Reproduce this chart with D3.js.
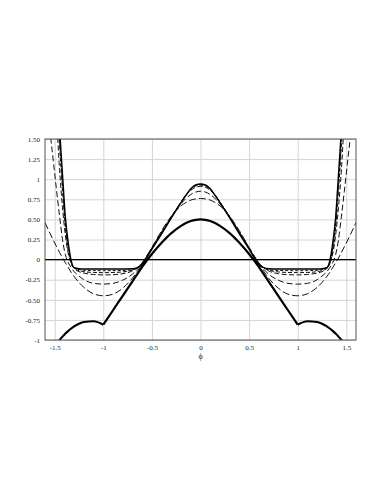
<!DOCTYPE html>
<html>
<head>
<meta charset="utf-8">
<script src="https://cdn.jsdelivr.net/npm/d3@7"></script>
<style>
  body { margin: 0; background: #fff; }
  text { font-family: "Liberation Serif", "Times New Roman", serif; }
</style>
</head>
<body>
<svg id="chart"></svg>
<script>
// phi grid shared by all curves
const phi = [-1.6, -1.55, -1.51, -1.48, -1.45, -1.42, -1.39, -1.36, -1.33, -1.3, -1.25, -1.2, -1.1, -1.0, -0.9, -0.8, -0.7, -0.65, -0.6, -0.5, -0.4, -0.3, -0.2, -0.15, -0.1, -0.05, 0,
  0.05, 0.1, 0.15, 0.2, 0.3, 0.4, 0.5, 0.6, 0.65, 0.7, 0.8, 0.9, 1.0, 1.1, 1.2, 1.25, 1.3, 1.33, 1.36, 1.39, 1.42, 1.45, 1.48, 1.51, 1.55, 1.6];

// thick solid curve with the cusps at +-1
const curveA = [-1.27, -1.17, -1.097, -1.047, -1.0, -0.958, -0.92, -0.887, -0.857, -0.831, -0.798, -0.776, -0.767, -0.81, -0.63, -0.45, -0.27, -0.18, -0.09, 0.07, 0.21, 0.33, 0.42, 0.455, 0.48, 0.495, 0.50,
  0.495, 0.48, 0.455, 0.42, 0.33, 0.21, 0.07, -0.09, -0.18, -0.27, -0.45, -0.63, -0.81, -0.767, -0.776, -0.798, -0.831, -0.857, -0.887, -0.92, -0.958, -1.0, -1.047, -1.097, -1.17, -1.27];
// solid curve, flat bottom
const curveB = [5.0, 3.9, 3.0, 2.3, 1.62, 1.06, 0.52, 0.20, -0.015, -0.10, -0.113, -0.116, -0.117, -0.117, -0.117, -0.117, -0.113, -0.10, -0.06, 0.13, 0.32, 0.52, 0.71, 0.80, 0.88, 0.93, 0.94,
  0.93, 0.88, 0.80, 0.71, 0.52, 0.32, 0.13, -0.06, -0.10, -0.113, -0.117, -0.117, -0.117, -0.117, -0.116, -0.113, -0.10, -0.015, 0.20, 0.52, 1.06, 1.62, 2.3, 3.0, 3.9, 5.0];
// dashed approximations
const dash1 = [0.46, 0.33, 0.23, 0.16, 0.09, 0.02, -0.04, -0.10, -0.16, -0.21, -0.285, -0.345, -0.425, -0.45, -0.43, -0.355, -0.23, -0.145, -0.06, 0.15, 0.36, 0.54, 0.67, 0.71, 0.74, 0.755, 0.76,
  0.755, 0.74, 0.71, 0.67, 0.54, 0.36, 0.15, -0.06, -0.145, -0.23, -0.355, -0.43, -0.45, -0.425, -0.345, -0.285, -0.21, -0.16, -0.10, -0.04, 0.02, 0.09, 0.16, 0.23, 0.33, 0.46];
const dash2 = [2.3, 1.62, 1.18, 0.85, 0.54, 0.25, 0.06, -0.04, -0.10, -0.15, -0.205, -0.25, -0.295, -0.305, -0.295, -0.255, -0.18, -0.12, -0.04, 0.15, 0.345, 0.53, 0.695, 0.76, 0.81, 0.84, 0.85,
  0.84, 0.81, 0.76, 0.695, 0.53, 0.345, 0.15, -0.04, -0.12, -0.18, -0.255, -0.295, -0.305, -0.295, -0.25, -0.205, -0.15, -0.10, -0.04, 0.06, 0.25, 0.54, 0.85, 1.18, 1.62, 2.3];
const dash3 = [4.4, 3.3, 2.4, 1.75, 1.12, 0.65, 0.30, 0.07, -0.05, -0.11, -0.15, -0.168, -0.185, -0.19, -0.188, -0.175, -0.14, -0.10, -0.04, 0.145, 0.34, 0.535, 0.715, 0.80, 0.86, 0.90, 0.91,
  0.90, 0.86, 0.80, 0.715, 0.535, 0.34, 0.145, -0.04, -0.10, -0.14, -0.175, -0.188, -0.19, -0.185, -0.168, -0.15, -0.11, -0.05, 0.07, 0.30, 0.65, 1.12, 1.75, 2.4, 3.3, 4.4];
const dash4 = [4.7, 3.6, 2.7, 2.05, 1.42, 0.86, 0.40, 0.10, -0.05, -0.105, -0.138, -0.15, -0.16, -0.162, -0.16, -0.153, -0.13, -0.10, -0.045, 0.14, 0.335, 0.53, 0.715, 0.80, 0.87, 0.915, 0.925,
  0.915, 0.87, 0.80, 0.715, 0.53, 0.335, 0.14, -0.045, -0.10, -0.13, -0.153, -0.16, -0.162, -0.16, -0.15, -0.138, -0.105, -0.05, 0.10, 0.40, 0.86, 1.42, 2.05, 2.7, 3.6, 4.7];
const dash5 = [4.8, 3.7, 2.8, 2.1, 1.5, 0.93, 0.45, 0.14, -0.04, -0.10, -0.125, -0.133, -0.137, -0.138, -0.137, -0.135, -0.125, -0.10, -0.05, 0.135, 0.33, 0.525, 0.715, 0.80, 0.875, 0.925, 0.935,
  0.925, 0.875, 0.80, 0.715, 0.525, 0.33, 0.135, -0.05, -0.10, -0.125, -0.135, -0.137, -0.138, -0.137, -0.133, -0.125, -0.10, -0.04, 0.14, 0.45, 0.93, 1.5, 2.1, 2.8, 3.7, 4.8];

const xTicks = [-1.5, -1, -0.5, 0, 0.5, 1, 1.5];
const xTickLabels = ["-1.5", "-1", "-0.5", "0", "0.5", "1", "1.5"];
const yTicks = [-1, -0.75, -0.5, -0.25, 0, 0.25, 0.5, 0.75, 1, 1.25, 1.5];
const yTickLabels = ["-1", "-0.75", "-0.50", "-0.25", "0", "0.25", "0.50", "0.75", "1", "1.25", "1.50"];
const cusps = [-1, 1];

const width = 383, height = 495;
const plotLeft = 45, plotRight = 356, plotTop = 139, plotBottom = 340;

const svg = d3.select("#chart").attr("width", width).attr("height", height);

const x = d3.scaleLinear().domain([-1.6, 1.6]).range([plotLeft, plotRight]);
const y = d3.scaleLinear().domain([-1, 1.5]).range([plotBottom, plotTop]);

// grid
svg.append("g")
    .attr("transform", `translate(0,${plotBottom})`)
    .call(d3.axisBottom(x).tickValues(xTicks).tickSize(-(plotBottom - plotTop)).tickFormat(""))
    .call(g => g.select(".domain").remove())
    .call(g => g.selectAll("line").attr("stroke", "#d4d4d4").attr("stroke-width", 1));
svg.append("g")
    .attr("transform", `translate(${plotLeft},0)`)
    .call(d3.axisLeft(y).tickValues(yTicks).tickSize(-(plotRight - plotLeft)).tickFormat(""))
    .call(g => g.select(".domain").remove())
    .call(g => g.selectAll("line").attr("stroke", "#d4d4d4").attr("stroke-width", 1));

// tick labels
svg.append("g")
    .attr("transform", `translate(0,${plotBottom})`)
    .call(d3.axisBottom(x).tickValues(xTicks).tickSize(0).tickPadding(5)
        .tickFormat((d, i) => xTickLabels[i]))
    .call(g => g.select(".domain").remove())
    .call(g => g.selectAll("text").attr("font-family", "Liberation Serif").attr("font-size", 7).attr("fill", "#222"));
svg.append("g")
    .attr("transform", `translate(${plotLeft},0)`)
    .call(d3.axisLeft(y).tickValues(yTicks).tickSize(0).tickPadding(5)
        .tickFormat((d, i) => yTickLabels[i]))
    .call(g => g.select(".domain").remove())
    .call(g => g.selectAll("text").attr("font-family", "Liberation Serif").attr("font-size", 7).attr("fill", "#222"));

svg.append("text")
    .attr("x", x(0))
    .attr("y", plotBottom + 19)
    .attr("text-anchor", "middle")
    .attr("font-size", 8)
    .attr("fill", "#222")
    .text("ϕ");

svg.append("clipPath").attr("id", "clip")
    .append("rect").attr("x", plotLeft).attr("y", plotTop)
    .attr("width", plotRight - plotLeft).attr("height", plotBottom - plotTop);

const plot = svg.append("g").attr("clip-path", "url(#clip)");

// zero line
plot.append("line")
    .attr("x1", plotLeft).attr("x2", plotRight)
    .attr("y1", y(0)).attr("y2", y(0))
    .attr("stroke", "#000").attr("stroke-width", 1.2);

const line = d3.line()
    .x(d => x(d[0]))
    .y(d => y(d[1]))
    .curve(d3.curveMonotoneX);

const dashed = [
    { vals: dash1, dash: "7,3" },
    { vals: dash2, dash: "6,3" },
    { vals: dash3, dash: "5,2.5" },
    { vals: dash4, dash: "4,2" },
    { vals: dash5, dash: "3,2" }
];

plot.selectAll(".dash")
    .data(dashed)
    .enter().append("path")
    .attr("class", "dash")
    .attr("fill", "none")
    .attr("stroke", "#111")
    .attr("stroke-width", 1)
    .attr("stroke-dasharray", d => d.dash)
    .attr("d", d => line(phi.map((p, i) => [p, d.vals[i]])));

plot.append("path")
    .attr("fill", "none")
    .attr("stroke", "#000")
    .attr("stroke-width", 1.4)
    .attr("d", line(phi.map((p, i) => [p, curveB[i]])));

// curve A drawn in pieces so the cusps stay sharp
const ptsA = phi.map((p, i) => [p, curveA[i]]);
const pieces = [];
let cur = [];
ptsA.forEach(pt => {
    cur.push(pt);
    if (cusps.includes(pt[0])) { pieces.push(cur); cur = [pt]; }
});
pieces.push(cur);
plot.selectAll(".thick")
    .data(pieces)
    .enter().append("path")
    .attr("class", "thick")
    .attr("fill", "none")
    .attr("stroke", "#000")
    .attr("stroke-width", 2.2)
    .attr("d", d => line(d));

// frame
svg.append("rect")
    .attr("x", plotLeft).attr("y", plotTop)
    .attr("width", plotRight - plotLeft).attr("height", plotBottom - plotTop)
    .attr("fill", "none")
    .attr("stroke", "#555")
    .attr("stroke-width", 1);
</script>
</body>
</html>
